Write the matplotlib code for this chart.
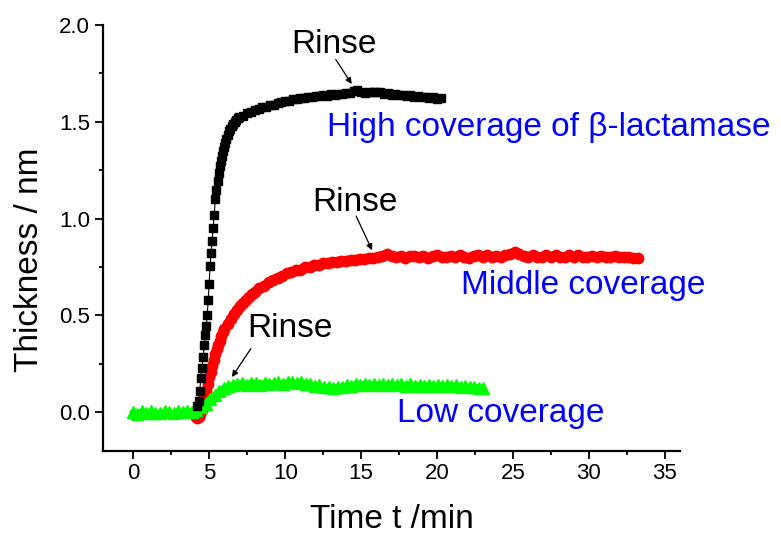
import numpy as np
import matplotlib
matplotlib.use("Agg")
import matplotlib.pyplot as plt
from matplotlib.ticker import MultipleLocator, FormatStrFormatter

plt.rcParams['font.family'] = ['Liberation Sans', 'DejaVu Sans']

# ---------------- data ----------------
# High coverage (black squares): fast rise, then slow approach to plateau
black_t_rise = [4.17, 4.30, 4.37, 4.44, 4.51, 4.59, 4.67, 4.74, 4.80, 4.86,
                4.93, 4.99, 5.05, 5.11, 5.18, 5.25, 5.32, 5.40,
                5.47, 5.54, 5.61, 5.68, 5.75, 5.82, 5.89, 5.96, 6.04, 6.12,
                6.20, 6.29, 6.38, 6.47, 6.56, 6.66, 6.76, 6.87, 6.98]
black_y_rise = [0.03, 0.06, 0.11, 0.175, 0.23, 0.285, 0.345, 0.40, 0.445, 0.50,
                0.58, 0.665, 0.755, 0.82, 0.885, 0.95, 1.02, 1.10,
                1.15, 1.195, 1.235, 1.27, 1.30, 1.325, 1.35, 1.37, 1.39, 1.41,
                1.43, 1.45, 1.465, 1.48, 1.49, 1.50, 1.51, 1.518, 1.526]
black_t0, black_dt = 7.25, 0.25
black_y_plateau = [1.531, 1.544, 1.549, 1.562, 1.564, 1.576, 1.578, 1.589,
                   1.589, 1.599, 1.600, 1.610, 1.610, 1.617, 1.617, 1.624,
                   1.622, 1.629, 1.626, 1.633, 1.631, 1.638, 1.635, 1.642,
                   1.639, 1.645, 1.644, 1.650, 1.650, 1.659, 1.662, 1.655,
                   1.649, 1.655, 1.656, 1.652, 1.652, 1.646, 1.647, 1.641,
                   1.643, 1.637, 1.639, 1.634, 1.636, 1.630, 1.632, 1.627,
                   1.629, 1.624, 1.626, 1.620, 1.621]

# Middle coverage (red circles)
red_t0a, red_dta = 4.1, 0.1
red_y_a = [-0.025, -0.028, -0.022, -0.010, 0.010, 0.040, 0.075, 0.110, 0.145, 0.180,
           0.210, 0.240, 0.270, 0.300, 0.325, 0.350, 0.370, 0.395, 0.415, 0.430]
red_t0b, red_dtb = 6.2, 0.2
red_y_b = [0.455, 0.480, 0.505, 0.528, 0.547, 0.565, 0.580, 0.596, 0.610, 0.622]
red_t0c, red_dtc = 8.3, 0.3
red_y_c = [0.641, 0.653, 0.671, 0.681, 0.696, 0.703, 0.717, 0.722, 0.734, 0.737,
           0.748, 0.750, 0.760, 0.760, 0.769, 0.769, 0.777, 0.776, 0.783, 0.782,
           0.788, 0.787, 0.793, 0.791, 0.797, 0.795, 0.802, 0.808, 0.815, 0.805,
           0.800, 0.808, 0.798, 0.806, 0.809, 0.801, 0.808, 0.798, 0.807, 0.811,
           0.802, 0.800, 0.809, 0.801, 0.810, 0.802, 0.799, 0.808, 0.811, 0.803,
           0.810, 0.801, 0.809, 0.803, 0.811, 0.815, 0.826, 0.818, 0.808, 0.803,
           0.811, 0.804, 0.801, 0.810, 0.803, 0.811, 0.804, 0.801, 0.810, 0.803,
           0.811, 0.804, 0.801, 0.809, 0.802, 0.809, 0.803, 0.800, 0.807, 0.802,
           0.800, 0.804, 0.799, 0.799]

# Low coverage (green triangles)
green_t0, green_dt = -0.05, 0.3
green_y = [0.000, -0.007, 0.005, -0.004, 0.007, -0.002, -0.006, 0.005, 0.001, -0.005,
           0.007, 0.000, 0.008, 0.002, 0.010, 0.025, 0.045, 0.070, 0.090, 0.110,
           0.125, 0.135, 0.142, 0.146, 0.150, 0.143, 0.150, 0.152, 0.143, 0.152,
           0.145, 0.153, 0.155, 0.145, 0.156, 0.157, 0.149, 0.157, 0.147, 0.148,
           0.138, 0.139, 0.130, 0.132, 0.125, 0.133, 0.132, 0.140, 0.138, 0.146,
           0.142, 0.147, 0.143, 0.146, 0.141, 0.145, 0.140, 0.144, 0.140, 0.145,
           0.137, 0.145, 0.138, 0.141, 0.138, 0.141, 0.137, 0.140, 0.136, 0.139,
           0.134, 0.139, 0.132, 0.136, 0.130, 0.133, 0.126, 0.125]

# ---------------- assemble series ----------------
black_t = np.concatenate([black_t_rise,
                          black_t0 + black_dt * np.arange(len(black_y_plateau))])
black_y = np.concatenate([black_y_rise, black_y_plateau])

red_t = np.concatenate([red_t0a + red_dta * np.arange(len(red_y_a)),
                        red_t0b + red_dtb * np.arange(len(red_y_b)),
                        red_t0c + red_dtc * np.arange(len(red_y_c))])
red_y = np.concatenate([red_y_a, red_y_b, red_y_c])

green_t = green_t0 + green_dt * np.arange(len(green_y))
green_y = np.asarray(green_y)

# ---------------- figure ----------------
fig = plt.figure(figsize=(7.81, 5.34), dpi=100)
ax = fig.add_axes([0.1319, 0.1554, 0.7388, 0.7978])

# dense sampling: a wide line under the markers gives the solid band
ax.plot(red_t, red_y, color='#ff0000', lw=6.5, marker='o', ms=7.5,
        mec='#ff0000', mfc='#ff0000', solid_capstyle='round',
        solid_joinstyle='round', zorder=2)
ax.plot(green_t, green_y, color='#00ff00', lw=4.5, marker='^', ms=9,
        mec='#00ff00', mfc='#00ff00', solid_capstyle='round',
        solid_joinstyle='round', zorder=3)
ax.plot(black_t, black_y, color='black', lw=0.8, marker='s', ms=6.3,
        mec='black', mfc='black', zorder=4)

ax.set_xlim(-2, 36)
ax.set_ylim(-0.2, 2.0)
ax.xaxis.set_major_locator(MultipleLocator(5))
ax.xaxis.set_minor_locator(MultipleLocator(2.5))
ax.yaxis.set_major_locator(MultipleLocator(0.5))
ax.yaxis.set_minor_locator(MultipleLocator(0.25))
ax.yaxis.set_major_formatter(FormatStrFormatter('%.1f'))

for side in ('top', 'right'):
    ax.spines[side].set_visible(False)
for side in ('left', 'bottom'):
    ax.spines[side].set_linewidth(1.6)

ax.tick_params(which='major', direction='out', length=6, width=1.3,
               labelsize=16, color='black')
ax.tick_params(which='minor', direction='out', length=3, width=1.3)
ax.tick_params(axis='x', which='major', pad=2.5)
ax.tick_params(axis='y', which='major', pad=3.5)

fig.text(392 / 781, 1 - 520 / 534, 'Time t /min', fontsize=24,
         ha='center', va='center')
fig.text(30 / 781, 1 - 260 / 534, 'Thickness / nm', fontsize=24,
         ha='center', va='center', rotation=90)

# annotations
fs = 24
ax.text(10.37, 1.857, 'Rinse', fontsize=fs, ha='left', va='baseline')
ax.text(11.78, 1.039, 'Rinse', fontsize=fs, ha='left', va='baseline')
ax.text(7.52, 0.389, 'Rinse', fontsize=fs, ha='left', va='baseline')

arrow = dict(arrowstyle='-|>', color='black', lw=0.9, mutation_scale=9,
             shrinkA=0, shrinkB=0)
ax.annotate('', xy=(14.38, 1.695), xytext=(13.33, 1.822), arrowprops=arrow)
ax.annotate('', xy=(15.72, 0.837), xytext=(14.67, 1.013), arrowprops=arrow)
ax.annotate('', xy=(6.49, 0.182), xytext=(7.74, 0.329), arrowprops=arrow)

ax.text(12.78, 1.428, 'High coverage of β-lactamase', fontsize=fs,
        color='#0000ff', ha='left', va='baseline')
ax.text(21.56, 0.613, 'Middle coverage', fontsize=fs,
        color='#0000ff', ha='left', va='baseline')
ax.text(17.37, -0.050, 'Low coverage', fontsize=fs,
        color='#0000ff', ha='left', va='baseline')

fig.savefig('out.png', dpi=100)
